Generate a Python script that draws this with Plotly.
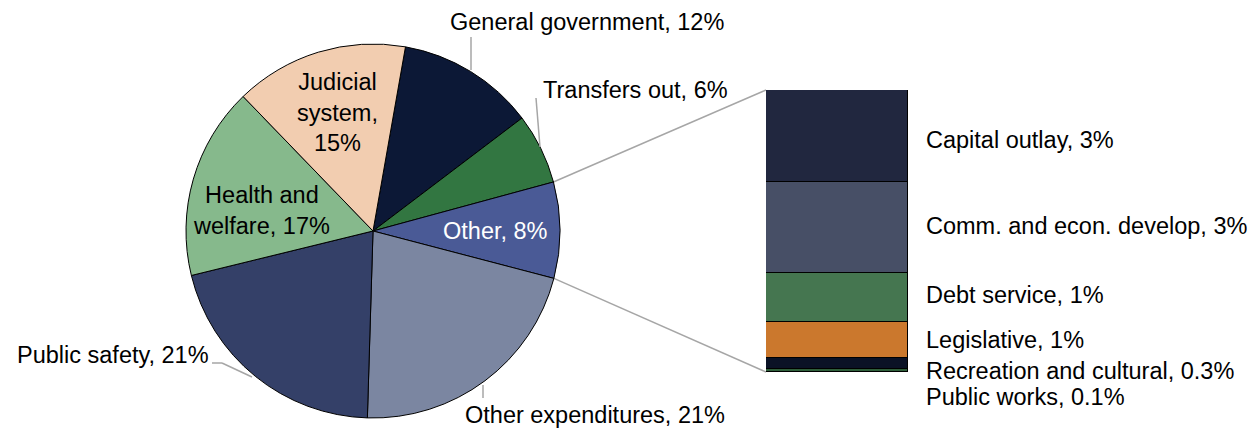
import math
import plotly.graph_objects as go

W, H = 1256, 430

# ---------------- data ----------------
pie_labels = ["General government", "Transfers out", "Other", "Other expenditures",
              "Public safety", "Health and welfare", "Judicial system"]
pie_values = [11.9, 6.1, 8.3, 21.4, 20.7, 16.6, 15.0]
pie_pct_text = ["12%", "6%", "8%", "21%", "21%", "17%", "15%"]
pie_colors = ["#0c1836", "#327641", "#4a5a96", "#7b86a1", "#344068", "#86b98c", "#f2cdb0"]

bar_labels = ["Public works", "Recreation and cultural", "Legislative", "Debt service",
              "Comm. and econ. develop", "Capital outlay"]          # bottom -> top
bar_values = [0.1, 0.3, 1.05, 1.45, 2.65, 2.7]
bar_pct_text = ["0.1%", "0.3%", "1%", "1%", "3%", "3%"]
bar_colors = ["#2f5e3a", "#0b1226", "#cb782d", "#457650", "#474f66", "#21273f"]

# ---------------- layout geometry (pixels) ----------------
pie_cx, pie_cy, pie_r = 373, 231, 187
rotation = 10
bar_x0, bar_x1, bar_top, bar_bot = 766, 908, 90, 372

FONT = "Liberation Sans, Arial, sans-serif"
FS = 23.5


def px(x):
    return x / W


def py(y):
    return 1 - y / H


fig = go.Figure()

fig.add_trace(go.Pie(
    labels=pie_labels, values=pie_values, sort=False, direction="clockwise",
    rotation=rotation, textinfo="none", hoverinfo="label+percent",
    marker=dict(colors=pie_colors, line=dict(color="#000000", width=1)),
    domain=dict(x=[px(pie_cx - pie_r), px(pie_cx + pie_r)],
                y=[py(pie_cy + pie_r), py(pie_cy - pie_r)]),
    showlegend=False,
))

for lab, val, col in zip(bar_labels, bar_values, bar_colors):
    fig.add_trace(go.Bar(
        x=["Other"], y=[val], name=lab, marker=dict(color=col, line=dict(color="#000000", width=1)),
        xaxis="x", yaxis="y", showlegend=False, width=1,
    ))

total_bar = sum(bar_values)

# connector lines from the "Other" slice edges to the bar
tot = sum(pie_values)
idx = pie_labels.index("Other")
a_start = rotation + 360 * sum(pie_values[:idx]) / tot
a_end = a_start + 360 * pie_values[idx] / tot


def edge(a):
    r = math.radians(a)
    return pie_cx + pie_r * math.sin(r), pie_cy - pie_r * math.cos(r)


shapes = []
sx, sy = edge(a_start)
ex, ey = edge(a_end)
for (x0, y0), (x1, y1) in [((sx, sy), (bar_x0, bar_top)), ((ex, ey), (bar_x0, bar_bot))]:
    shapes.append(dict(type="line", xref="paper", yref="paper",
                       x0=px(x0), y0=py(y0), x1=px(x1), y1=py(y1),
                       line=dict(color="#a6a6a6", width=1.5), layer="below"))

# leader lines for outside labels
leaders = [
    [(471, 37), (471, 70)],
    [(536, 98), (540, 147)],
    [(212, 363), (222, 363), (252, 377)],
    [(483, 385), (483, 398)],
]
for pts in leaders:
    for (x0, y0), (x1, y1) in zip(pts[:-1], pts[1:]):
        shapes.append(dict(type="line", xref="paper", yref="paper",
                           x0=px(x0), y0=py(y0), x1=px(x1), y1=py(y1),
                           line=dict(color="#a6a6a6", width=1.5)))

annotations = []


def ann(text, x, y, xanchor="center", color="#000000", align="center"):
    annotations.append(dict(text=text, x=px(x), y=py(y), xref="paper", yref="paper",
                            xanchor=xanchor, yanchor="middle", showarrow=False, align=align,
                            font=dict(family=FONT, size=FS, color=color)))


# pie labels
ann(f"{pie_labels[0]}, {pie_pct_text[0]}", 587, 22)
ann(f"{pie_labels[1]}, {pie_pct_text[1]}", 541, 90, xanchor="left")
ann(f"{pie_labels[2]}, {pie_pct_text[2]}", 495.5, 231, color="#ffffff")
ann(f"{pie_labels[3]}, {pie_pct_text[3]}", 595, 415)
ann(f"{pie_labels[4]}, {pie_pct_text[4]}", 15, 355, xanchor="left")
ann(f"Health and<br>welfare, {pie_pct_text[5]}", 261.5, 210)
ann(f"Judicial<br>system,<br>{pie_pct_text[6]}", 337.5, 112)

# bar labels
bar_label_y = [397, 371, 340, 295, 226, 140]
for lab, pct, yy in zip(bar_labels, bar_pct_text, bar_label_y):
    ann(f"{lab}, {pct}", 924, yy, xanchor="left", align="left")

fig.update_layout(
    width=W, height=H,
    margin=dict(l=0, r=0, t=0, b=0),
    paper_bgcolor="#ffffff", plot_bgcolor="rgba(0,0,0,0)",
    barmode="stack", bargap=0,
    xaxis=dict(domain=[px(bar_x0), px(bar_x1)], range=[-0.5, 0.5], visible=False, fixedrange=True),
    yaxis=dict(domain=[py(bar_bot), py(bar_top)], range=[0, total_bar], visible=False, fixedrange=True),
    shapes=shapes, annotations=annotations,
    font=dict(family=FONT),
)

fig.write_html("out.html")
